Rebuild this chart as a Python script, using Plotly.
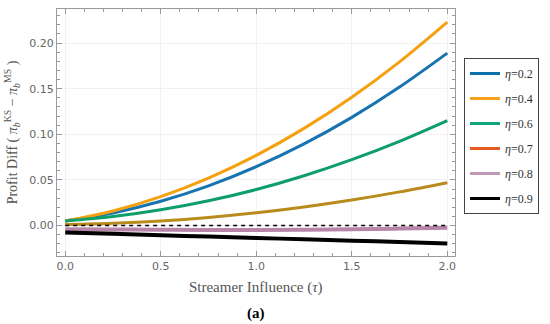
import plotly.graph_objects as go

tau = [0.0, 0.25, 0.5, 0.75, 1.0, 1.25, 1.5, 1.75, 2.0]
eta_labels = ["0.2", "0.4", "0.6", "0.7", "0.8", "0.9"]
diff_02 = [0.005, 0.0138, 0.0266, 0.0435, 0.0645, 0.0895, 0.1186, 0.1518, 0.189]
diff_04 = [0.005, 0.0160, 0.0317, 0.0520, 0.0769, 0.1065, 0.1407, 0.1795, 0.223]
diff_06 = [0.005, 0.0098, 0.0172, 0.0271, 0.0395, 0.0546, 0.0722, 0.0923, 0.115]
diff_07 = [0.001, 0.0024, 0.0050, 0.0089, 0.0140, 0.0204, 0.0280, 0.0369, 0.047]
diff_08 = [-0.0040, -0.0043, -0.0046, -0.0048, -0.0048, -0.0046, -0.0041, -0.0033, -0.0024]
diff_09 = [-0.0076, -0.0091, -0.0106, -0.0121, -0.0136, -0.0151, -0.0166, -0.0181, -0.0196]
zero_line = [0.0] * len(tau)

series = [diff_02, diff_04, diff_06, diff_07, diff_08, diff_09]
plot_colors = ["#1874b0", "#f5a00f", "#0e9e6a", "#b98a1c", "#b785a8", "#000000"]
legend_colors = ["#0b72ac", "#f7a11a", "#11a77c", "#e55a20", "#c097b4", "#000000"]
widths = [3, 3, 3, 3, 4, 4]

fig = go.Figure()
for vals, col, w in zip(series, plot_colors, widths):
    fig.add_trace(go.Scatter(x=tau, y=vals, mode="lines", line=dict(color=col, width=w, shape="spline"),
                             showlegend=False, hoverinfo="skip"))
fig.add_trace(go.Scatter(x=tau, y=zero_line, mode="lines",
                         line=dict(color="black", width=1.6, dash="4px,4px"), showlegend=False))

for lab, col in zip(eta_labels, legend_colors):
    fig.add_trace(go.Scatter(x=[None], y=[None], mode="lines", line=dict(color=col, width=3),
                             name="<i>η</i>=" + lab, legendgroup=lab))

axis_common = dict(showline=True, linecolor="#9a9a9a", linewidth=1, mirror="allticks",
                   ticks="inside", ticklen=5, tickcolor="#9a9a9a", zeroline=False,
                   showgrid=True, gridcolor="#f1f1f1",
                   tickfont=dict(family="DejaVu Sans, Arial", size=11, color="#666666"))

fig.update_xaxes(range=[-0.043, 2.038], dtick=0.5, tick0=0, tickformat=".1f",
                 minor=dict(ticks="inside", ticklen=3, dtick=0.1, tick0=0, tickcolor="#9a9a9a", showgrid=False),
                 title=dict(text="Streamer Influence (<i>τ</i>)", standoff=9,
                            font=dict(family="Liberation Serif, Times New Roman", size=15, color="#555555")),
                 **axis_common)
fig.update_yaxes(range=[-0.0334, 0.2374], dtick=0.05, tick0=0, tickformat=".2f",
                 minor=dict(ticks="inside", ticklen=3, dtick=0.01, tick0=0, tickcolor="#9a9a9a", showgrid=False),
                 title=dict(text="Profit Diff ( <i>π</i><sub><i>b</i></sub><sup>KS</sup> − <i>π</i><sub><i>b</i></sub><sup>MS</sup> )", standoff=8,
                            font=dict(family="Liberation Serif, Times New Roman", size=14, color="#555555")),
                 **axis_common)

fig.add_annotation(text="<b>(a)</b>", x=0.5, y=0, xref="paper", yref="paper", showarrow=False,
                   yanchor="top", yshift=-47,
                   font=dict(family="Liberation Serif, Times New Roman", size=15, color="black"))

fig.update_layout(width=550, height=324, margin=dict(l=57, r=93, t=8, b=68),
                  plot_bgcolor="white", paper_bgcolor="white",
                  legend=dict(x=464 / 550, y=1 - 58 / 324, xref="container", yref="container",
                              xanchor="left", yanchor="top",
                              bordercolor="#444444", borderwidth=1, tracegroupgap=6,
                              itemwidth=30,
                              font=dict(family="Liberation Serif, Times New Roman", size=12, color="#333333")))

fig.write_html("out.html", config={"displayModeBar": False},
               post_script="document.body.style.margin='0';")
